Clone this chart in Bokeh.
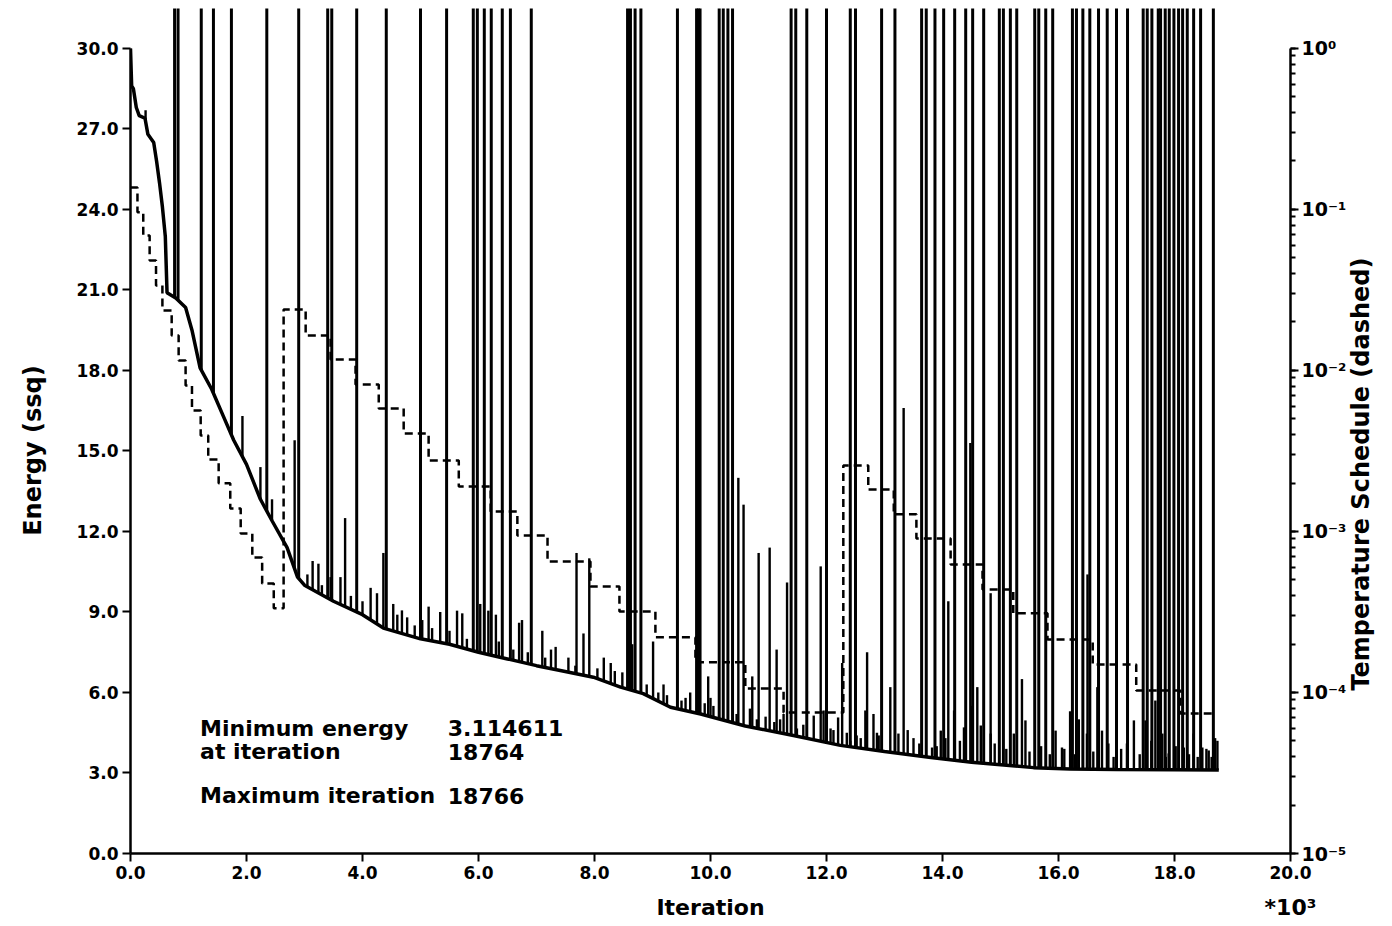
import math
import numpy as np
from bokeh.plotting import figure
from bokeh.models import (Range1d, LinearAxis, LogAxis, LogScale, FixedTicker, LogTicker,
                          PrintfTickFormatter, CustomJSTickFormatter, Label)
from bokeh.embed import file_html
from bokeh.resources import INLINE

# ---------------- data (iterations in thousands) ----------------
base_x = [0.0, 0.02, 0.05, 0.1, 0.15, 0.25, 0.3, 0.4, 0.45, 0.5, 0.55, 0.6, 0.63, 0.78,
          0.95, 1.06, 1.2, 1.4, 1.6, 1.78, 2.0, 2.24, 2.44, 2.7, 2.88, 3.0, 3.5, 4.0, 4.36,
          5.0, 5.5, 6.0, 6.5, 7.0, 7.41, 7.98, 8.45, 8.84, 9.31, 9.83, 10.6, 11.43, 12.24,
          13.0, 13.8, 14.5, 15.57, 16.2, 17.0, 18.0, 18.764]
base_e = [30.0, 28.6, 28.5, 27.8, 27.5, 27.4, 26.8, 26.5, 25.8, 25.0, 24.1, 23.0, 20.9, 20.7,
          20.35, 19.5, 18.1, 17.3, 16.3, 15.4, 14.5, 13.2, 12.4, 11.4, 10.3, 10.0, 9.4, 8.9, 8.4,
          8.0, 7.8, 7.5, 7.25, 7.0, 6.82, 6.57, 6.2, 5.96, 5.45, 5.2, 4.75, 4.4, 4.03,
          3.8, 3.58, 3.4, 3.2, 3.15, 3.13, 3.12, 3.11]

# spikes that leave the top of the plot
tall_x = [0.76, 0.82, 1.22, 1.43, 1.74, 2.35, 2.9, 3.4, 3.47, 3.9, 4.41, 5.0, 5.45, 5.91, 5.98,
          6.1, 6.22, 6.41, 6.55, 6.91, 8.57, 8.62, 8.70, 8.80, 9.43, 9.76, 9.79, 9.82, 10.15,
          10.22, 10.3, 10.38, 11.39, 11.47, 11.66, 12.0, 12.41, 12.5, 12.95, 13.18, 13.64, 13.72,
          13.87, 14.02, 14.21, 14.4, 14.52, 14.71, 14.98, 15.05, 15.17, 15.28, 15.59, 15.66,
          15.78, 15.9, 16.24, 16.31, 16.42, 16.54, 16.69, 16.84, 17.0, 17.19, 17.46, 17.53,
          17.61, 17.72, 17.76, 17.84, 17.91, 17.99, 18.07, 18.14, 18.22, 18.33, 18.45, 18.67]
tall_top = 40.0

# spikes that stay inside the plot (x, peak energy)
spike_x = [0.26, 1.93, 2.24, 2.44, 2.83, 3.14, 3.62, 3.7, 4.14, 4.36, 4.53, 5.14, 5.34, 5.63,
           6.3, 6.7, 7.1, 7.33, 7.69, 7.81, 7.91, 8.16, 8.28, 8.48, 8.65, 9.01, 9.19, 9.57,
           9.96, 10.48, 10.57, 10.72, 10.83, 11.02, 11.14, 11.32, 11.9, 12.27, 12.7, 13.33,
           14.1, 14.48, 14.6, 14.83, 15.37, 16.2, 16.5, 16.67, 17.3, 17.67, 18.48, 18.7,
           3.05, 3.24, 3.3, 3.45, 3.8, 4.0, 4.25, 4.6, 4.68, 4.77, 4.9, 5.03, 5.2, 5.5, 5.72,
           5.8, 6.03, 6.17, 6.35, 6.6, 6.75, 6.85, 7.15, 7.25, 7.55, 7.67, 8.05, 8.35, 8.9,
           9.1, 9.25, 9.5, 9.9, 10.05, 10.45, 10.8, 10.95, 11.1, 11.26, 11.49, 11.78, 11.95,
           12.07, 12.2, 12.41, 12.59, 12.67, 12.81, 12.87, 13.1, 13.24, 13.5, 13.82, 13.97,
           14.2, 14.37, 14.51, 14.66, 14.83, 15.23, 15.43, 15.95, 16.06, 16.35, 16.49, 16.75,
           16.86, 17.18, 17.5, 17.79, 17.9, 18.16, 18.33, 18.59, 18.74,
           9.65, 10.0, 10.68, 11.2, 11.6, 12.12, 12.35, 12.52, 12.9, 13.4, 13.6, 13.9, 14.05,
           14.3, 14.9, 15.1, 15.5, 15.7, 15.85, 16.1, 16.28, 16.6, 16.95, 17.08, 17.4, 17.6,
           17.85, 18.02, 18.25, 18.4, 18.55, 18.64]
spike_e = [27.7, 16.3, 14.4, 13.2, 15.4, 10.9, 10.3, 12.5, 9.9, 11.2, 9.3, 9.2, 9.0, 9.05,
           8.9, 8.6, 8.3, 7.7, 11.2, 8.2, 11.0, 7.3, 7.1, 6.75, 7.8, 7.9, 6.3, 5.8,
           6.6, 14.0, 13.0, 6.6, 11.2, 11.4, 7.6, 10.1, 10.7, 7.1, 7.5, 16.6,
           9.4, 15.3, 6.2, 9.7, 6.5, 5.3, 10.4, 6.2, 4.96, 5.7, 3.95, 4.3,
           10.4, 10.8, 10.0, 10.3, 9.6, 9.4, 9.7, 8.9, 9.06, 8.8, 8.5, 8.7, 8.4, 8.3, 8.95,
           8.0, 9.3, 9.05, 7.9, 7.6, 8.7, 7.5, 7.3, 7.6, 7.3, 7.0, 6.9, 6.8, 6.3,
           6.0, 5.9, 5.7, 5.6, 5.5, 5.2, 5.0, 5.1, 4.9, 5.2, 4.66, 5.14, 5.33,
           4.66, 5.07, 4.2, 4.3, 5.33, 5.2, 4.5, 6.2, 4.47, 4.3, 3.95, 4.58,
           5.33, 4.7, 5.5, 4.77, 4.47, 4.47, 4.96, 4.58, 3.95, 5.0, 4.47, 4.58,
           4.1, 4.1, 4.96, 4.47, 3.73, 3.95, 4.47, 3.84, 4.2,
           6.0, 5.8, 5.4, 5.0, 4.8, 4.6, 4.5, 4.4, 4.4, 4.6, 4.1, 4.0, 4.3,
           4.2, 4.1, 3.9, 3.8, 4.0, 3.7, 3.9, 3.7, 3.8, 3.6, 3.9, 3.7, 4.2,
           3.6, 4.0, 3.7, 3.6, 3.9, 3.6]

# temperature schedule (step starts, thousands of iterations; temperature)
temp_x = [0.0, 0.12, 0.22, 0.33, 0.44, 0.55, 0.71, 0.83, 0.95, 1.06, 1.21, 1.34, 1.52, 1.72,
          1.9, 2.1, 2.27, 2.47,
          2.64, 3.02, 3.45, 3.88, 4.28, 4.71, 5.14, 5.66, 6.21, 6.67, 7.19, 7.93, 8.43, 9.05,
          9.74, 10.6, 11.26,
          12.29, 12.72, 13.16, 13.55, 14.14, 14.69, 15.22, 15.81, 16.59, 17.34, 18.1, 18.71]
temp_t = [0.137, 0.0962, 0.069, 0.0482, 0.0337, 0.0236, 0.0165, 0.01154, 0.00807, 0.00565,
          0.00395, 0.0028, 0.00199, 0.00139, 0.000972, 0.00069, 0.000475, 0.000333,
          0.0239, 0.0165, 0.0117, 0.00818, 0.0058, 0.00406, 0.00276, 0.0019, 0.00133,
          0.000944, 0.000651, 0.000455, 0.000318, 0.00022, 0.000154, 0.000106, 0.0000751,
          0.00257, 0.00182, 0.00128, 0.000905, 0.000624, 0.000436, 0.00031, 0.000213,
          0.000149, 0.000103, 0.0000741, 0.0000741]

x_ticks = [0, 2, 4, 6, 8, 10, 12, 14, 16, 18, 20]
e_ticks = [0, 3, 6, 9, 12, 15, 18, 21, 24, 27, 30]

min_energy = "3.114611"
min_iter = "18764"
max_iter = "18766"

# ---------------- figure ----------------
FONT = "DejaVu Sans"
p = figure(width=1392, height=926, output_backend="svg", toolbar_location=None,
           x_range=Range1d(0, 20), y_range=Range1d(0, 31.49),
           min_border_left=130, min_border_right=102, min_border_top=8, min_border_bottom=73,
           outline_line_color=None, background_fill_color="white", border_fill_color="white")
p.xaxis.visible = False
p.yaxis.visible = False
p.xgrid.visible = False
p.ygrid.visible = False


def style(ax):
    ax.axis_line_width = 2.5
    ax.axis_line_color = "black"
    ax.major_tick_line_width = 2
    ax.major_tick_line_color = "black"
    ax.major_tick_out = 8
    ax.major_tick_in = 0
    ax.minor_tick_line_color = None
    ax.major_label_text_font = FONT
    ax.major_label_text_font_style = "bold"
    ax.major_label_text_font_size = "17px"
    ax.major_label_text_color = "black"


def title_axis(ax, standoff, size):
    # an axis used only to carry a title text as its single tick label
    ax.axis_line_color = None
    ax.major_tick_line_color = None
    ax.minor_tick_line_color = None
    ax.major_tick_out = 0
    ax.major_tick_in = 0
    ax.major_label_standoff = standoff
    ax.major_label_text_font = FONT
    ax.major_label_text_font_style = "bold"
    ax.major_label_text_font_size = size
    ax.major_label_text_color = "black"


# bottom: numbers, then a row with the title and the multiplier
xax = LinearAxis(ticker=FixedTicker(ticks=x_ticks), formatter=PrintfTickFormatter(format="%.1f"),
                 bounds=(0, 20))
style(xax)
xax.major_label_standoff = 4
p.add_layout(xax, "below")

xt_pos = [10, 20]
xtitle = LinearAxis(ticker=FixedTicker(ticks=xt_pos),
                    major_label_overrides={10: "Iteration", 20: "*10\u00b3"})
title_axis(xtitle, 13, "22px")
p.add_layout(xtitle, "below")

# left: energy axis, then its rotated title
yax = LinearAxis(ticker=FixedTicker(ticks=e_ticks), formatter=PrintfTickFormatter(format="%.1f"),
                 bounds=(0, 30))
style(yax)
yax.major_label_standoff = 4
p.add_layout(yax, "left")

yt_pos = 18.19
ytitle = LinearAxis(ticker=FixedTicker(ticks=[yt_pos]),
                    major_label_overrides={yt_pos: "Energy (ssq)"},
                    major_label_orientation=math.pi / 2)
title_axis(ytitle, 40, "24px")
p.add_layout(ytitle, "left")

# right: log temperature axis, then its rotated title
p.extra_y_ranges = {"temp": Range1d(1e-5, 1.77)}
p.extra_y_scales = {"temp": LogScale()}
sup_js = """
const sup = {"0":"\u2070","1":"\u00b9","2":"\u00b2","3":"\u00b3","4":"\u2074","5":"\u2075","-":"\u207b"};
const e = Math.round(Math.log10(tick));
return "10" + String(e).split("").map(c => sup[c]).join("");
"""
rax = LogAxis(y_range_name="temp", ticker=LogTicker(num_minor_ticks=10),
              formatter=CustomJSTickFormatter(code=sup_js), bounds=(1e-5, 1))
style(rax)
rax.minor_tick_line_width = 2
rax.minor_tick_line_color = "black"
rax.minor_tick_out = 5
rax.minor_tick_in = 0
rax.major_label_standoff = 3
rax.major_label_text_font_size = "19px"
p.add_layout(rax, "right")

rt_pos = 6.07
rtitle = LinearAxis(ticker=FixedTicker(ticks=[rt_pos]),
                    major_label_overrides={rt_pos: "Temperature Schedule (dashed)"},
                    major_label_orientation=math.pi / 2)
title_axis(rtitle, 12, "24px")
p.add_layout(rtitle, "right")

# energy curve
p.line(base_x, base_e, line_color="black", line_width=3.5)
tx = np.array(tall_x)
p.segment(x0=tx, y0=np.interp(tx, base_x, base_e), x1=tx, y1=np.full(len(tx), tall_top),
          line_color="black", line_width=3)
sx = np.array(spike_x)
p.segment(x0=sx, y0=np.interp(sx, base_x, base_e), x1=sx, y1=np.array(spike_e),
          line_color="black", line_width=2.4)

# temperature schedule
p.step(temp_x, temp_t, mode="after", y_range_name="temp", line_color="black",
       line_width=2.5, line_dash="8 5")


# annotations inside the plot
def lab(x, y, t):
    p.add_layout(Label(x=x, y=y, text=t, text_font=FONT, text_font_style="bold",
                       text_font_size="22px", text_align="left", text_baseline="middle",
                       text_color="black"))


lab(1.2, 4.66, "Minimum energy")
lab(1.2, 3.80, "at iteration")
lab(1.2, 2.16, "Maximum iteration")
lab(5.47, 4.66, min_energy)
lab(5.47, 3.80, min_iter)
lab(5.47, 2.16, max_iter)

open("out.html", "w").write(file_html(p, INLINE))
